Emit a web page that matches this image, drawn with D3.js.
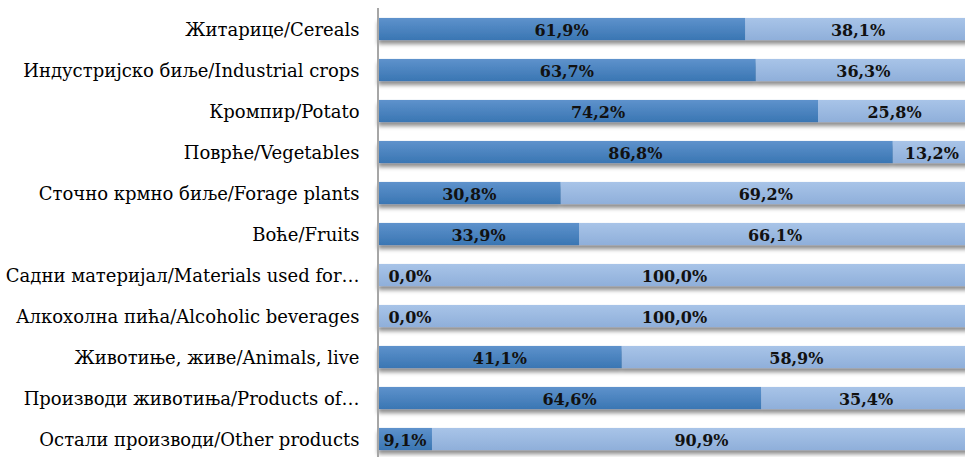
<!DOCTYPE html>
<html>
<head>
<meta charset="utf-8">
<script src="https://cdn.jsdelivr.net/npm/d3@7"></script>
<style>
html,body{margin:0;padding:0;background:#fff;overflow:hidden;}
svg{display:block;}
</style>
</head>
<body>
<svg id="chart" width="965" height="457"></svg>
<script>
const categories = [
  "Житарице/Cereals",
  "Индустријско биље/Industrial crops",
  "Кромпир/Potato",
  "Поврће/Vegetables",
  "Сточно крмно биље/Forage plants",
  "Воће/Fruits",
  "Садни материјал/Materials used for…",
  "Алкохолна пића/Alcoholic beverages",
  "Животиње, живе/Animals, live",
  "Производи животиња/Products of…",
  "Остали производи/Other products"
];
const seriesA = [61.9, 63.7, 74.2, 86.8, 30.8, 33.9, 0.0, 0.0, 41.1, 64.6, 9.1];
const seriesB = [38.1, 36.3, 25.8, 13.2, 69.2, 66.1, 100.0, 100.0, 58.9, 35.4, 90.9];

const svg = d3.select("#chart");
const defs = svg.append("defs");

function grad(id, top, bottom) {
  const g = defs.append("linearGradient").attr("id", id)
    .attr("x1", 0).attr("y1", 0).attr("x2", 0).attr("y2", 1);
  g.append("stop").attr("offset", "0%").attr("stop-color", top);
  g.append("stop").attr("offset", "100%").attr("stop-color", bottom);
}
grad("gA", "#5e92cc", "#3a76b3");
grad("gB", "#a8c4e8", "#8fafda");

const f = defs.append("filter").attr("id", "shadow")
  .attr("x", "-5%").attr("y", "-30%").attr("width", "110%").attr("height", "180%");
f.append("feDropShadow").attr("dx", 0).attr("dy", 4).attr("stdDeviation", 2.2)
  .attr("flood-color", "#000").attr("flood-opacity", 0.45);

const x = d3.scaleLinear().domain([0, 100]).range([378, 971]);
const y = d3.scaleBand().domain(categories).range([8.5, 459.5])
  .paddingInner(0.46).paddingOuter(0.23);

const rows = categories.map((c, i) => ({ c, a: seriesA[i], b: seriesB[i] }));

const g = svg.append("g");
const row = g.selectAll("g.row").data(rows).join("g").attr("class", "row");

row.append("g").attr("filter", "url(#shadow)").each(function(d) {
  const s = d3.select(this);
  s.append("rect").attr("x", x(d.a)).attr("y", y(d.c))
    .attr("width", x(d.a + d.b) - x(d.a)).attr("height", y.bandwidth())
    .attr("fill", "url(#gB)");
  s.append("rect").attr("x", x(0)).attr("y", y(d.c))
    .attr("width", x(d.a) - x(0)).attr("height", y.bandwidth())
    .attr("fill", "url(#gA)");
});

const lblFont = "'DejaVu Serif', serif";
const fmt = v => d3.format(".1f")(v).replace(".", ",") + "%";

row.append("text")
  .attr("x", d => d.a === 0 ? x(0) + 32 : (x(0) + x(d.a)) / 2)
  .attr("y", d => y(d.c) + y.bandwidth() / 2)
  .attr("dy", "0.42em").attr("text-anchor", "middle")
  .style("font-family", lblFont).style("font-weight", "bold").style("font-size", "16px")
  .attr("fill", "#111")
  .text(d => fmt(d.a));

row.append("text")
  .attr("x", d => (x(d.a) + x(d.a + d.b)) / 2)
  .attr("y", d => y(d.c) + y.bandwidth() / 2)
  .attr("dy", "0.42em").attr("text-anchor", "middle")
  .style("font-family", lblFont).style("font-weight", "bold").style("font-size", "16px")
  .attr("fill", "#111")
  .text(d => fmt(d.b));

// category axis
const axis = d3.axisLeft(y).tickSize(0).tickPadding(18.5);
const ax = svg.append("g").attr("transform", `translate(${x(0)},0)`).call(axis);
ax.select(".domain").remove();
ax.selectAll("text").attr("dy", "0.37em")
  .style("font-family", lblFont).style("font-size", "18px").attr("fill", "#000");
svg.append("line").attr("x1", x(0)).attr("x2", x(0)).attr("y1", 8).attr("y2", 457)
  .attr("stroke", "#a6a6a6").attr("stroke-width", 2);
</script>
</body>
</html>
